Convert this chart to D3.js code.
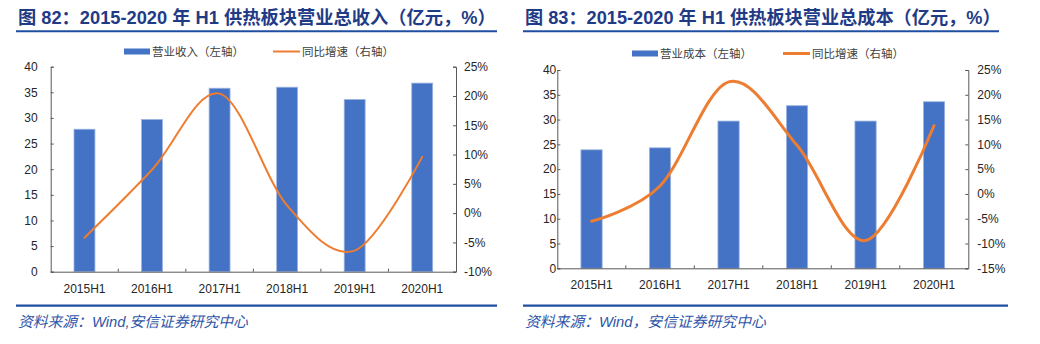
<!DOCTYPE html>
<html><head><meta charset="utf-8">
<script src="https://cdn.jsdelivr.net/npm/d3@7"></script>
<style>
html,body{margin:0;padding:0;background:#fff;}
svg{display:block;}
</style></head>
<body>
<svg id="c" width="1040" height="344"></svg>
<script>
const categories = ["2015H1","2016H1","2017H1","2018H1","2019H1","2020H1"];
const revenue = [27.8, 29.7, 35.8, 36.0, 33.6, 36.8];
const revenueGrowth = [-4.2, 7.4, 20.4, 1.3, -6.4, 9.6];
const cost = [23.9, 24.3, 29.7, 32.8, 29.7, 33.6];
const costGrowth = [-5.5, 1.6, 22.6, 9.8, -9.4, 13.8];
const leftTicks = [0,5,10,15,20,25,30,35,40];
const rightTicksA = [-10,-5,0,5,10,15,20,25];
const rightTicksB = [-15,-10,-5,0,5,10,15,20,25];
const titleA = "图 82：2015-2020 年 H1 供热板块营业总收入（亿元，%）";
const titleB = "图 83：2015-2020 年 H1 供热板块营业总成本（亿元，%）";
const legendA = ["营业收入（左轴）","同比增速（右轴）"];
const legendB = ["营业成本（左轴）","同比增速（右轴）"];
const sourceA = "资料来源：Wind,安信证券研究中心";
const sourceB = "资料来源：Wind，安信证券研究中心";

const svg = d3.select("#c");
const NAVY = "#1f3b86";
const LINEBLUE = "#1f4ea0";
const BAR = "#4472c4";
const ORANGE = "#ed7d31";
const AX = "#595959";
const FONT = "'Liberation Sans', Arial, 'Noto Sans CJK SC', sans-serif";
const CJK = "'Noto Sans CJK SC', 'Liberation Sans', sans-serif";
const MIX = "'Liberation Sans', Arial, 'Noto Sans CJK SC', sans-serif";

function fitText(sel, width, size) {
  const w = sel.node().getComputedTextLength();
  if (w > 0) sel.attr("font-size", size * width / w);
}

function drawChart(o) {
  const g = svg.append("g");
  // title
  const t = g.append("text").attr("x", o.x0 + 2).attr("y", 23.5)
    .attr("font-family", MIX).attr("font-weight", "bold").attr("font-size", 17.5)
    .attr("fill", NAVY).text(o.title);
  fitText(t, o.titleW, 17.5);
  g.append("line").attr("x1", o.x0).attr("x2", o.x1).attr("y1", 31.2).attr("y2", 31.2)
    .attr("stroke", LINEBLUE).attr("stroke-width", 2);
  g.append("line").attr("x1", o.x0).attr("x2", o.bx1).attr("y1", 305.7).attr("y2", 305.7)
    .attr("stroke", LINEBLUE).attr("stroke-width", 2.2);
  const s = g.append("text").attr("x", o.x0 + 2).attr("y", 326.5)
    .attr("font-family", MIX).attr("font-style", "italic").attr("font-size", 14)
    .attr("fill", "#2f55a8").text(o.source);
  fitText(s, o.srcW, 14);

  const x = d3.scaleBand().domain(categories).range([o.pl, o.pr]).padding(0);
  const yL = d3.scaleLinear().domain([0, 40]).range([o.pb, o.pt]);
  const yR = d3.scaleLinear().domain([o.rTicks[0], o.rTicks[o.rTicks.length-1]]).range([o.pb, o.pt]);
  const bw = x.step() * 0.31;

  // bars
  g.append("g").selectAll("rect").data(o.bars).join("rect")
    .attr("x", (d,i) => x(categories[i]) + x.bandwidth()/2 - bw/2)
    .attr("y", d => yL(d))
    .attr("width", bw)
    .attr("height", d => yL(0) - yL(d))
    .attr("fill", BAR).attr("stroke", "#9db5e3").attr("stroke-width", 0.8);

  // axes
  const axL = d3.axisLeft(yL).tickValues(leftTicks).tickSize(-3).tickPadding(o.lPad).tickFormat(d3.format("d"));
  const gl = g.append("g").attr("transform", `translate(${o.pl},0)`).call(axL);
  const axR = d3.axisRight(yR).tickValues(o.rTicks).tickSize(-3).tickPadding(o.rPad).tickFormat(d => d + "%");
  const gr = g.append("g").attr("transform", `translate(${o.pr},0)`).call(axR);
  const axB = d3.axisBottom(x).tickSize(0).tickPadding(o.xPad);
  const gb = g.append("g").attr("transform", `translate(0,${o.pb})`).call(axB);
  [gl, gr, gb].forEach(a => {
    a.select(".domain").attr("stroke", AX).attr("stroke-width", 1);
    a.selectAll(".tick line").attr("stroke", AX);
    a.selectAll("text").attr("font-family", FONT).attr("font-size", 12).attr("fill", "#262626");
  });
  // category separator ticks on x axis (inward)
  g.append("g").selectAll("line").data(categories.slice(1)).join("line")
    .attr("x1", d => x(d)).attr("x2", d => x(d))
    .attr("y1", o.pb).attr("y2", o.pb - 3)
    .attr("stroke", AX).attr("stroke-width", 1);
  gb.select(".domain").attr("d", `M${o.pl},0.5H${o.pr}`);

  // line
  const line = d3.line()
    .x((d,i) => x(categories[i]) + x.bandwidth()/2)
    .y(d => yR(d))
    .curve(d3.curveCardinal.tension(0));
  g.append("path").datum(o.growth).attr("d", line)
    .attr("fill", "none").attr("stroke", ORANGE).attr("stroke-width", o.lw)
    .attr("stroke-linecap", "round");

  // legend
  const lg = g.append("g");
  lg.append("rect").attr("x", o.leg[0]).attr("y", o.legY - 3).attr("width", 26).attr("height", 6).attr("fill", BAR);
  lg.append("text").attr("x", o.leg[0] + 28).attr("y", o.legY + 4.2)
    .attr("font-family", CJK).attr("font-size", 11.5).attr("fill", "#404040").text(o.legend[0]);
  lg.append("line").attr("x1", o.leg[1]).attr("x2", o.leg[1] + 27).attr("y1", o.legY).attr("y2", o.legY)
    .attr("stroke", ORANGE).attr("stroke-width", o.lw);
  lg.append("text").attr("x", o.leg[1] + 29).attr("y", o.legY + 4.2)
    .attr("font-family", CJK).attr("font-size", 11.5).attr("fill", "#404040").text(o.legend[1]);
}

drawChart({
  x0: 16, x1: 497, bx1: 497, titleW: 478, srcW: 230,
  title: titleA, source: sourceA, legend: legendA,
  pl: 50.7, pr: 456, pt: 66.7, pb: 271.7,
  rTicks: rightTicksA, bars: revenue, growth: revenueGrowth,
  lPad: 13, rPad: 8, xPad: 13, lw: 2,
  leg: [124, 273], legY: 51.5
});
drawChart({
  x0: 523, x1: 999, bx1: 1008, titleW: 476, srcW: 241,
  title: titleB, source: sourceB, legend: legendB,
  pl: 557.3, pr: 968.3, pt: 70, pb: 268.3,
  rTicks: rightTicksB, bars: cost, growth: costGrowth,
  lPad: 1, rPad: 9, xPad: 12, lw: 3,
  leg: [632, 783], legY: 53.5
});
</script>
</body></html>
